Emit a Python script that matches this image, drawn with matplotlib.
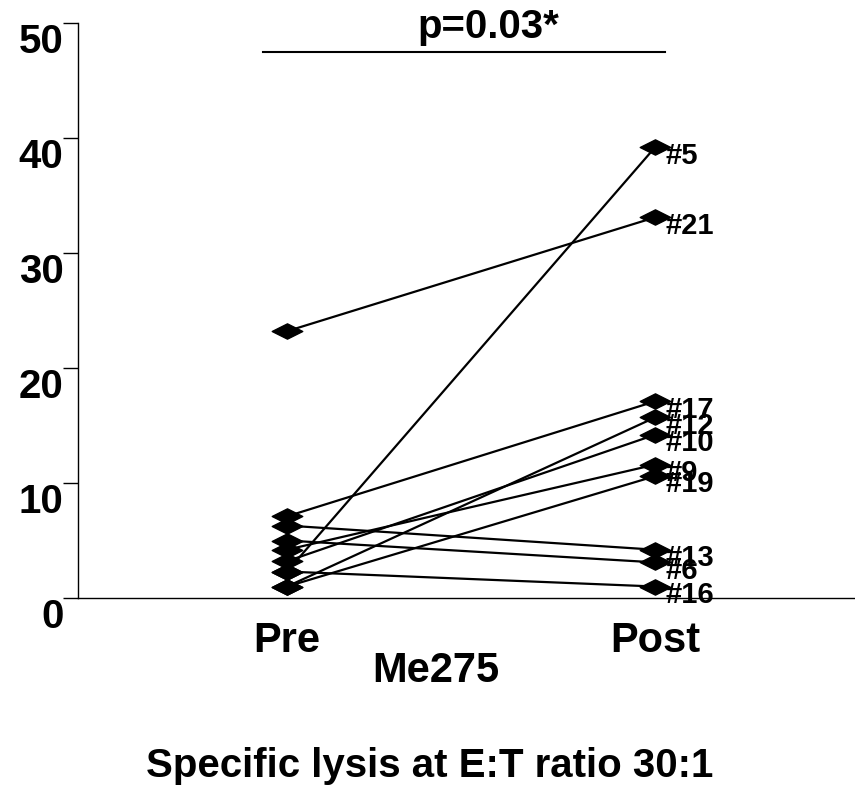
import matplotlib
matplotlib.use("Agg")
import matplotlib.pyplot as plt
from matplotlib.path import Path

plt.rcParams['font.family'] = ['Liberation Sans', 'DejaVu Sans']
plt.rcParams['font.weight'] = 'bold'

# data
patients = ['#5', '#21', '#17', '#12', '#10', '#9', '#19', '#13', '#6', '#16']
pre = [2.3, 23.2, 7.1, 1.0, 3.2, 4.2, 1.0, 6.3, 5.0, 2.3]
post = [39.2, 33.1, 17.1, 15.7, 14.2, 11.6, 10.6, 4.2, 3.1, 1.0]
groups = ['Pre', 'Post']
yticks = [0, 10, 20, 30, 40, 50]

# flat diamond marker
diamond = Path([(-1, 0), (0, 0.5), (1, 0), (0, -0.5), (-1, 0)],
               [Path.MOVETO, Path.LINETO, Path.LINETO, Path.LINETO, Path.CLOSEPOLY])

fig = plt.figure(figsize=(8.55, 7.85), dpi=100)
ax = fig.add_axes([0.0912, 0.2382, 0.9088, 0.7325])

for p, a, b in zip(patients, pre, post):
    ax.plot([1, 2], [a, b], color='black', lw=1.6, marker=diamond,
            markersize=22, markerfacecolor='black', markeredgecolor='black',
            clip_on=False, zorder=3)
    ax.annotate(p, (2, b), xytext=(7.5, -6), textcoords='offset points',
                ha='left', va='center', fontsize=21, fontweight='bold')

ax.set_xlim(0.432, 2.543)
ax.set_ylim(0, 50)
ax.set_yticks(yticks)
ax.set_xticks([])
ax.tick_params(axis='y', direction='out', length=10.5, width=1, pad=0,
               labelsize=29)
for lab in ax.get_yticklabels():
    lab.set_fontweight('bold')
    lab.set_va('top')
ax.spines['top'].set_visible(False)
ax.spines['right'].set_visible(False)
ax.spines['left'].set_linewidth(1)
ax.spines['bottom'].set_linewidth(1)

# group labels below axis
for i, g in enumerate(groups):
    ax.text(i + 1, -4.7, g, ha='center', va='baseline', fontsize=30,
            fontweight='bold')
ax.text(1.405, -7.3, 'Me275', ha='center', va='baseline', fontsize=30,
        fontweight='bold')

# significance bar
ax.plot([0.935, 2.027], [47.5, 47.5], color='black', lw=1.5, clip_on=False)
ax.text(1.546, 48.7, 'p=0.03*', ha='center', va='baseline', fontsize=29,
        fontweight='bold')

fig.text(0.503, 0.0102, 'Specific lysis at E:T ratio 30:1', ha='center',
         va='baseline', fontsize=29, fontweight='bold')

fig.savefig('out.png', dpi=100)
